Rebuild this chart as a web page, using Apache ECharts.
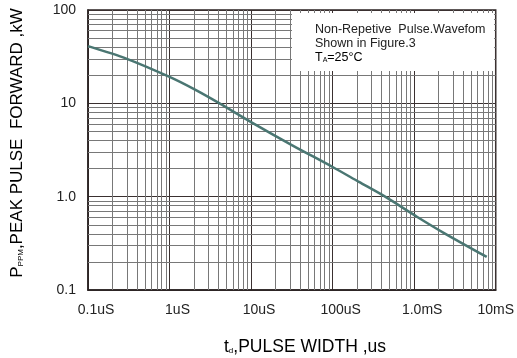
<!DOCTYPE html>
<html>
<head>
<meta charset="utf-8">
<script src="https://cdn.jsdelivr.net/npm/echarts@6/dist/echarts.min.js"></script>
<style>html,body{margin:0;padding:0;background:#fff}#c{width:517px;height:358px}</style>
</head>
<body>
<div id="c"></div>
<script>
// Pulse width (us) and peak pulse power (kW)
var pulseWidthUs = [0.1, 0.3, 1, 2, 4.1, 10, 32, 100, 210, 440, 1080, 2300, 7760];
var peakPowerKw  = [41, 30, 19.2, 14.2, 10, 6.3, 3.55, 2.08, 1.44, 1.0, 0.61, 0.41, 0.226];
var xTickValues = [0.1, 1, 10, 100, 1000, 10000];
var xTickLabels = ['0.1uS', '1uS', '10uS', '100uS', '1.0mS', '10mS'];
var yTickValues = [0.1, 1, 10, 100];
var yTickLabels = ['0.1', '1.0', '10', '100'];
var noteLines = ['Non-Repetive  Pulse.Wavefom', 'Shown in Figure.3'];

var FONT = 'Liberation Sans, Arial, sans-serif';
function labelFor(values, labels, v) {
  var e = Math.round(Math.log(v) / Math.LN10);
  for (var i = 0; i < values.length; i++) {
    if (Math.round(Math.log(values[i]) / Math.LN10) === e) return {i: i, t: labels[i]};
  }
  return null;
}
var minorX = [], minorY = [];
for (var d = -1; d < 4; d++) for (var m = 2; m <= 9; m++) minorX.push({xAxis: m * Math.pow(10, d)});
for (var d2 = -1; d2 < 2; d2++) for (var m2 = 2; m2 <= 9; m2++) minorY.push({yAxis: m2 * Math.pow(10, d2)});

var data = pulseWidthUs.map(function (t, i) { return [t, peakPowerKw[i]]; });
var chart = echarts.init(document.getElementById('c'));
chart.setOption({
  animation: false,
  backgroundColor: '#fff',
  grid: {left: 88, top: 10, right: 20, bottom: 68, show: true, borderColor: '#2a2222', borderWidth: 1.5, backgroundColor: 'transparent'},
  xAxis: {
    type: 'log', logBase: 10, min: 0.1, max: 10000,
    axisLine: {show: true, lineStyle: {color: '#2a2222', width: 1.5}},
    axisTick: {show: false},
    splitLine: {show: true, lineStyle: {color: '#3a3030', width: 1}},
    axisLabel: {
      color: '#222', fontFamily: FONT, fontSize: 14, margin: 13,
      formatter: function (v) {
        var r = labelFor(xTickValues, xTickLabels, v);
        if (!r) return '';
        return r.i < xTickLabels.length - 1 ? '{s|' + r.t + '}' : r.t;
      },
      rich: {s: {padding: [0, 0, 0, 16], fontSize: 14, fontFamily: FONT, color: '#222'}}
    }
  },
  yAxis: {
    type: 'log', logBase: 10, min: 0.1, max: 100,
    axisLine: {show: true, lineStyle: {color: '#2a2222', width: 1.5}},
    axisTick: {show: false},
    splitLine: {show: true, lineStyle: {color: '#3a3030', width: 1}},
    axisLabel: {
      color: '#222', fontFamily: FONT, fontSize: 14, margin: 12,
      formatter: function (v) { var r = labelFor(yTickValues, yTickLabels, v); return r ? r.t : ''; }
    }
  },
  series: [
    {
      type: 'line', data: [], z: 1, silent: true,
      markLine: {
        silent: true, symbol: ['none', 'none'], label: {show: false},
        lineStyle: {color: '#787878', width: 1, type: 'solid'},
        emphasis: {disabled: true},
        data: minorX.concat(minorY)
      }
    },
    {
      type: 'line', data: data, z: 5, smooth: 0.3, showSymbol: false, symbol: 'none',
      lineStyle: {color: '#4a7672', width: 2.5}
    }
  ],
  graphic: [
    {type: 'rect', z: 100, shape: {x: 292, y: 13, width: 202, height: 58}, style: {fill: '#fff'}},
    {type: 'text', z: 101, left: 315, top: 23, style: {text: noteLines[0], font: '12.5px ' + FONT, fill: '#222'}},
    {type: 'text', z: 101, left: 315, top: 37, style: {text: noteLines[1], font: '12.5px ' + FONT, fill: '#222'}},
    {type: 'text', z: 101, left: 315, top: 51, style: {
      text: '{n|T}{s|A}{n|=25°C}',
      rich: {n: {fontSize: 12.5, fontFamily: FONT, color: '#222'}, s: {fontSize: 7, fontFamily: FONT, color: '#222', padding: [5, 0, 0, 0]}}
    }},
    {type: 'text', z: 101, x: 17, y: 143, rotation: Math.PI / 2, style: {
      text: '{n|P}{s|PPM}{n|,PEAK PULSE  FORWARD ,kW}',
      align: 'center', verticalAlign: 'middle',
      rich: {n: {fontSize: 17, fontFamily: FONT, color: '#222'}, s: {fontSize: 8, fontFamily: FONT, color: '#222', padding: [8, 0, 0, 0]}}
    }},
    {type: 'text', z: 101, x: 305, y: 347, style: {
      text: '{n|t}{s|d}{n|,PULSE WIDTH ,us}',
      align: 'center', verticalAlign: 'middle',
      rich: {n: {fontSize: 17.5, fontFamily: FONT, color: '#222'}, s: {fontSize: 8, fontFamily: FONT, color: '#222', padding: [8, 0, 0, 0]}}
    }}
  ]
});
</script>
</body>
</html>
